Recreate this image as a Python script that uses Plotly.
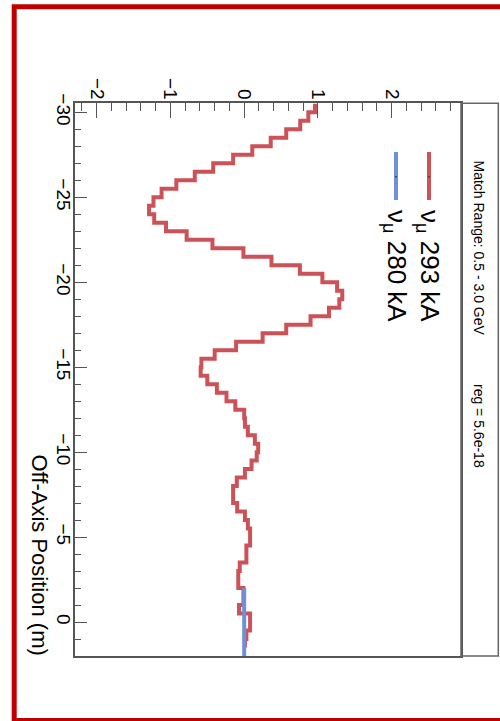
import plotly.graph_objects as go

# Off-axis flux match: histogram bin lower edges (m) and fitted coefficients
bin_width = 0.5
red_edges = [-30.5 + bin_width * i for i in range(64)]
red_values = [
    0.96, 0.87, 0.76, 0.57, 0.36, 0.11, -0.15, -0.42, -0.67, -0.92,
    -1.12, -1.23, -1.29, -1.22, -1.06, -0.78, -0.43, -0.01, 0.37, 0.755,
    1.06, 1.26, 1.33, 1.29, 1.15, 0.90, 0.57, 0.25, -0.11, -0.40,
    -0.58, -0.59, -0.50, -0.37, -0.24, -0.12, 0.0, 0.01, 0.05, 0.145,
    0.19, 0.17, 0.10, 0.01, -0.10, -0.15, -0.15, -0.095, 0.01, 0.05,
    0.08, 0.08, 0.03, 0.03, -0.06, -0.08, -0.08, -0.01, -0.01, -0.07,
    0.08, 0.08, 0.03, 0.01,
]
blue_edges = [-2.0 + bin_width * i for i in range(9)]
blue_values = [0.0, 0.0, 0.0, 0.0, 0.0, 0.0, 0.0, 0.0, 0.0]

series_labels = ["ν<sub>μ</sub> 293 kA", "ν<sub>μ</sub> 280 kA"]
series_colors = ["rgb(205,82,88)", "rgb(110,144,214)"]
title_left = "Match Range: 0.5 - 3.0 GeV"
title_right = "reg = 5.6e-18"
axis_title = "Off-Axis Position (m)"

W, H = 500, 721
ML, MR, MT, MB = 75, 39, 103, 65
PW, PH = W - ML - MR, H - MT - MB
FONT = "Liberation Sans, Arial, Helvetica, sans-serif"
FRAME = "#555555"


def px(x):
    return (x - ML) / PW


def py(y):
    return (H - MB - y) / PH


def step_trace(edges, values, color):
    # each bin drawn as a segment along the position axis, joined by risers
    ys = list(edges) + [edges[-1] + bin_width]
    xs = list(values) + [values[-1]]
    return go.Scatter(
        x=xs, y=ys, mode="lines", line=dict(color=color, width=4, shape="vh"),
        hoverinfo="skip", showlegend=False,
    )


fig = go.Figure()
fig.add_trace(step_trace(red_edges, red_values, series_colors[0]))
fig.add_trace(step_trace(blue_edges, blue_values, series_colors[1]))

fig.update_layout(
    width=W, height=H,
    margin=dict(l=ML, r=MR, t=MT, b=MB, pad=0),
    paper_bgcolor="white", plot_bgcolor="white",
    font=dict(family=FONT, color="black"),
    xaxis=dict(
        range=[-2.294, 2.94], side="top", dtick=1, tick0=0,
        ticks="inside", ticklen=15, tickwidth=1.2, tickcolor=FRAME,
        tickangle=90, ticklabelstandoff=-5,
        tickfont=dict(size=19, family=FONT, color="black"),
        minor=dict(ticks="inside", dtick=0.2, ticklen=8, tickwidth=1.2, tickcolor=FRAME),
        showline=True, mirror=True, linecolor=FRAME, linewidth=1.5,
        showgrid=False, zeroline=False,
    ),
    yaxis=dict(
        range=[2.0, -30.55], dtick=5, tick0=0,
        ticks="inside", ticklen=12, tickwidth=1.2, tickcolor=FRAME,
        tickangle=90, ticklabelstandoff=-7,
        tickfont=dict(size=19, family=FONT, color="black"),
        minor=dict(ticks="inside", dtick=1, ticklen=6, tickwidth=1.2, tickcolor=FRAME),
        showline=True, mirror=True, linecolor=FRAME, linewidth=1.5,
        showgrid=False, zeroline=False,
    ),
)

shapes = [
    # outer red frame
    dict(type="rect", xref="paper", yref="paper",
         x0=px(14.2), x1=px(520), y0=py(720.5), y1=py(6.7),
         line=dict(color="rgb(192,0,0)", width=5)),
    # title box to the right of the frame
    dict(type="rect", xref="paper", yref="paper",
         x0=px(461), x1=px(498.3), y0=py(656), y1=py(103.3),
         line=dict(color="#666666", width=1.5)),
]
annotations = [
    dict(text=title_left, xref="paper", yref="paper", x=px(479), y=py(158),
         xanchor="center", yanchor="top", textangle=90, showarrow=False,
         font=dict(size=14, family=FONT, color="black")),
    dict(text=title_right, xref="paper", yref="paper", x=px(479), y=py(382),
         xanchor="center", yanchor="top", textangle=90, showarrow=False,
         font=dict(size=14, family=FONT, color="black")),
    dict(text=axis_title, xref="paper", yref="paper", x=px(39), y=py(657),
         xanchor="center", yanchor="bottom", textangle=90, showarrow=False,
         font=dict(size=22, family=FONT, color="black")),
]
legend_x = [429, 396]
for label, color, lx in zip(series_labels, series_colors, legend_x):
    shapes.append(dict(type="line", xref="paper", yref="paper",
                       x0=px(lx), x1=px(lx), y0=py(152), y1=py(200),
                       line=dict(color=color, width=4)))
    # small marker dot at the centre of the legend line
    shapes.append(dict(type="line", xref="paper", yref="paper",
                       x0=px(lx), x1=px(lx), y0=py(176), y1=py(177.5),
                       line=dict(color="#333333", width=1.5)))
    annotations.append(dict(text=label, xref="paper", yref="paper",
                            x=px(lx), y=py(208), xanchor="center", yanchor="top",
                            textangle=90, showarrow=False,
                            font=dict(size=26, family=FONT, color="black")))

fig.update_layout(shapes=shapes, annotations=annotations)
fig.write_html("out.html")
